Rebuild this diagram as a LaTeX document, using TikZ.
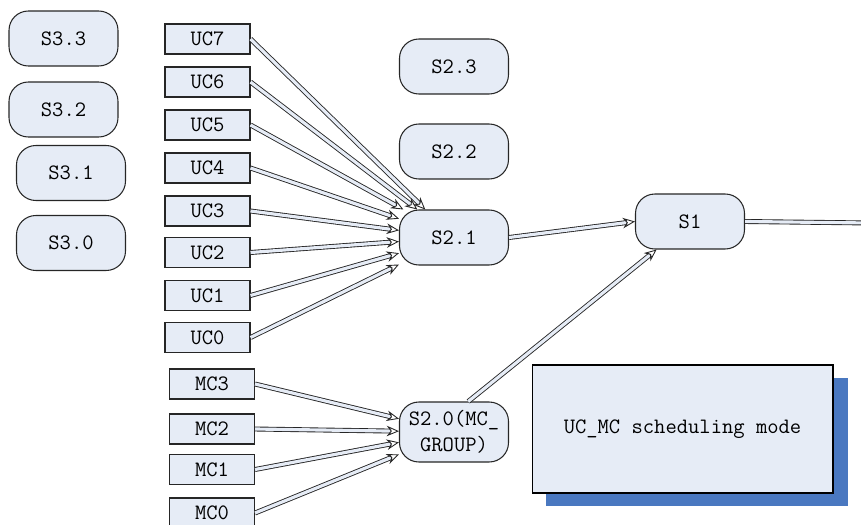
\documentclass[tikz,border=0pt]{standalone}
\usepackage{tikz}
\usetikzlibrary{arrows.meta,positioning,calc}
\definecolor{boxfill}{HTML}{E6ECF6}
\definecolor{shadowblue}{HTML}{4A78C0}
\tikzset{
  stnode/.style={draw=black!85, fill=boxfill, rounded corners=11pt, line width=0.6pt,
                 minimum width=2.18cm, minimum height=1.1cm, inner sep=1pt,
                 font=\ttfamily\fontsize{12.5}{15}\selectfont},
  ucbox/.style={draw=black!85, fill=boxfill, line width=0.6pt,
                minimum width=1.7cm, minimum height=0.6cm, inner sep=0pt,
                font=\ttfamily\fontsize{12.5}{15}\selectfont},
  link/.style={draw=black!85, line width=0.5pt, double=boxfill, double distance=1.8pt,
               -{Stealth[open, length=7pt, width=6pt]}},
  plainlink/.style={draw=black!85, line width=0.5pt, double=boxfill, double distance=1.8pt},
}
\begin{document}
\begin{tikzpicture}[x=0.02cm, y=-0.02cm]
  \useasboundingbox (0,0) rectangle (861,524);
  % level 3 nodes
  \node[stnode] (s33) at (63.5,38.5) {S3.3};
  \node[stnode] (s32) at (63.5,109.5) {S3.2};
  \node[stnode] (s31) at (71,173) {S3.1};
  \node[stnode] (s30) at (71,243) {S3.0};
  % level 2 nodes
  \node[stnode] (s23) at (454,66.5) {S2.3};
  \node[stnode] (s22) at (454,151.5) {S2.2};
  \node[stnode] (s21) at (454,237.5) {S2.1};
  \node[stnode, minimum height=1.2cm, align=center, inner sep=0pt] (s20) at (454,432) {S2.0(MC\_\\GROUP)};
  % level 1
  \node[stnode] (s1) at (690,221.5) {S1};
  \coordinate (out) at (870,223);
  % unicast queues
  \foreach \i/\y in {7/39,6/82,5/125,4/168,3/211,2/252.5,1/295.5,0/337.5} {
    \node[ucbox] (uc\i) at (207.5,\y) {UC\i};
    \draw[link] (uc\i.east) -- (s21);
  }
  % multicast queues
  \foreach \i/\y in {3/384,2/429,1/469.5,0/513} {
    \node[ucbox] (mc\i) at (212,\y) {MC\i};
    \draw[link] (mc\i.east) -- (s20);
  }
  % to S1
  \draw[link] (s21.east) -- (s1.west);
  \draw[link] (s20.65) -- (s1.220);
  \draw[plainlink] (s1.east) -- (out);
  % legend box
  \fill[shadowblue] (546,378) rectangle (848,506);
  \node[draw=black, fill=boxfill, line width=0.6pt, minimum width=6.02cm, minimum height=2.56cm,
        font=\ttfamily\fontsize{12.5}{15}\selectfont] (mode) at (682.5,429) {UC\_MC scheduling mode};
\end{tikzpicture}
\end{document}
